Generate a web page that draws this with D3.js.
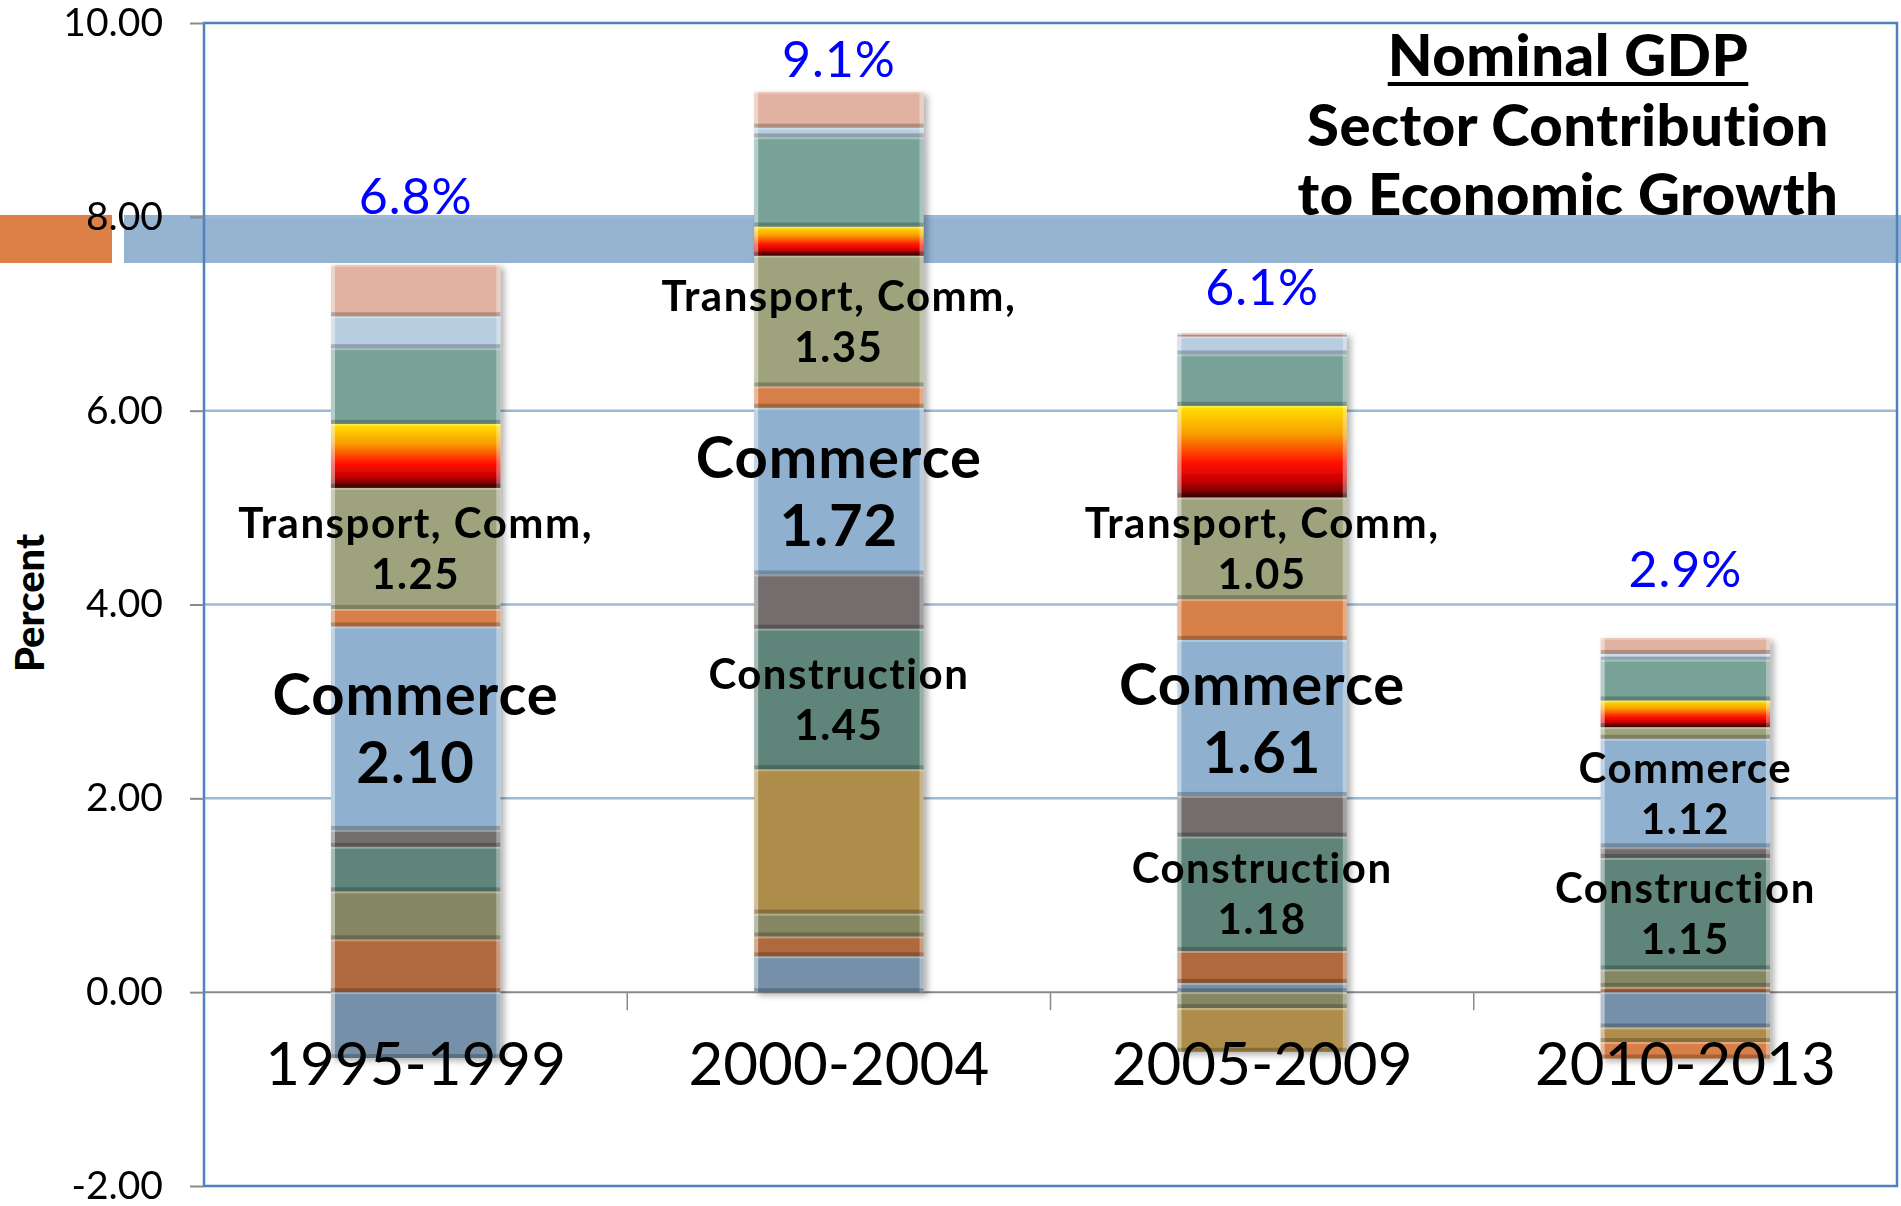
<!DOCTYPE html>
<html>
<head>
<meta charset="utf-8">
<script src="https://cdn.jsdelivr.net/npm/d3@7"></script>
<style>
  body { margin: 0; background: #fff; }
  svg text { font-family: Lato, 'Open Sans', sans-serif; }
</style>
</head>
<body>
<div class="canvas"></div>
<script>
// periods on the x axis
const categories = ['1995-1999', '2000-2004', '2005-2009', '2010-2013'];
// nominal GDP growth written over each bar, and the value it sits at
const growthLabels = ['6.8%', '9.1%', '6.1%', '2.9%'];
const growthLabelAt = [8.03, 9.44, 7.09, 4.18];
const yTicks = [-2, 0, 2, 4, 6, 8, 10];

// sector contributions (percentage points), bottom of the stack first
const sectorA      = [-0.68, 0.37, 0.095, -0.365];
const sectorB      = [0.545, 0.205, 0.33, 0.055];
const sectorC      = [0.495, 0.235, -0.165, 0.18];
const sectorD      = [0.0, 1.49, -0.45, -0.15];
const construction = [0.46, 1.45, 1.18, 1.15];
const sectorF      = [0.174, 0.56, 0.42, 0.11];
const commerce     = [2.10, 1.72, 1.61, 1.12];
const sectorH      = [0.18, 0.22, 0.42, -0.17];
const transport    = [1.25, 1.35, 1.05, 0.12];
const sectorJ      = [0.66, 0.30, 0.945, 0.275];
const sectorK      = [0.78, 0.92, 0.53, 0.42];
const sectorL      = [0.33, 0.10, 0.185, 0.06];
const sectorM      = [0.53, 0.37, 0.035, 0.165];

const keys = ['sectorA', 'sectorB', 'sectorC', 'sectorD', 'construction', 'sectorF',
    'commerce', 'sectorH', 'transport', 'sectorJ', 'sectorK', 'sectorL', 'sectorM'];
const values = [sectorA, sectorB, sectorC, sectorD, construction, sectorF,
    commerce, sectorH, transport, sectorJ, sectorK, sectorL, sectorM];
const colors = ['#7590a8', '#b0683c', '#858763', '#ad8d4a', '#5e8479', '#736d6e',
    '#8fb1cf', '#d77f48', '#9fa37d', 'url(#fire)', '#78a297', '#b8cde0', '#e1b2a2'];

// which segments carry a text label
const labelled = [
    { key: 'transport', text: 'Transport, Comm,', bars: [0, 1, 2] },
    { key: 'commerce', text: 'Commerce', bars: [0, 1, 2, 3] },
    { key: 'construction', text: 'Construction', bars: [1, 2, 3] }
];

const table = categories.map((c, i) => {
    const row = { category: c };
    keys.forEach((k, j) => row[k] = values[j][i]);
    return row;
});

const svg = d3.select('.canvas')
    .append('svg')
    .attr('width', 1901)
    .attr('height', 1206);

const defs = svg.append('defs');
const fire = defs.append('linearGradient').attr('id', 'fire')
    .attr('x1', 0).attr('y1', 0).attr('x2', 0).attr('y2', 1);
[['0%', '#ffe400'], ['30%', '#f8a000'], ['62%', '#ff1200'], ['82%', '#c80000'], ['100%', '#4a0000']]
    .forEach(s => fire.append('stop').attr('offset', s[0]).attr('stop-color', s[1]));

const shadow = defs.append('filter').attr('id', 'shadow')
    .attr('x', '-10%').attr('y', '-5%').attr('width', '130%').attr('height', '115%');
shadow.append('feDropShadow').attr('dx', 4).attr('dy', 3)
    .attr('stdDeviation', 3).attr('flood-opacity', 0.3);

const margin = { top: 23, right: 4, bottom: 20, left: 204 };
const graphWidth = 1901 - margin.left - margin.right;
const graphHeight = 1206 - margin.top - margin.bottom;

// slide decoration band, under the chart
svg.append('rect').attr('x', 0).attr('y', 215).attr('width', 112).attr('height', 48).attr('fill', '#dd8047');
svg.append('rect').attr('x', 124).attr('y', 215).attr('width', 1777).attr('height', 48).attr('fill', '#94b4d2');

const graph = svg.append('g')
    .attr('transform', `translate(${margin.left},${margin.top})`);

// scales
const y = d3.scaleLinear()
    .domain([-2, 10])
    .range([graphHeight, 0]);

const x = d3.scaleBand()
    .domain(categories)
    .range([0, graphWidth])
    .paddingInner(0.6)
    .paddingOuter(0.3);

// gridlines
graph.selectAll('line.grid')
    .data(yTicks.filter(d => d > 0 && d < 10))
    .enter().append('line')
    .attr('class', 'grid')
    .attr('x1', 0).attr('x2', graphWidth)
    .attr('y1', d => y(d)).attr('y2', d => y(d))
    .attr('stroke', '#9bbad8')
    .attr('stroke-width', 2.5);

// zero line with category ticks
graph.append('line')
    .attr('x1', 0).attr('x2', graphWidth)
    .attr('y1', y(0)).attr('y2', y(0))
    .attr('stroke', '#8a8a8a').attr('stroke-width', 2);

graph.selectAll('line.cat')
    .data(categories.slice(1))
    .enter().append('line')
    .attr('class', 'cat')
    .attr('x1', d => x(d) + x.bandwidth() / 2 - x.step() / 2)
    .attr('x2', d => x(d) + x.bandwidth() / 2 - x.step() / 2)
    .attr('y1', y(0)).attr('y2', y(0) + 18)
    .attr('stroke', '#8a8a8a').attr('stroke-width', 1.5);

// stacked bars
const stacked = d3.stack().keys(keys).offset(d3.stackOffsetDiverging)(table);

const bars = graph.append('g').attr('filter', 'url(#shadow)');

stacked.forEach((layer, li) => {
    layer.forEach(d => {
        const top = y(Math.max(d[0], d[1]));
        const h = Math.abs(y(d[0]) - y(d[1]));
        if (h < 0.5) return;
        const x0 = x(d.data.category);
        const w = x.bandwidth();
        const seg = bars.append('g');
        seg.append('rect')
            .attr('x', x0).attr('y', top).attr('width', w).attr('height', h)
            .attr('fill', colors[li]);
        // bevel: light sides and top, dark bottom
        const e = Math.min(4, h / 2);
        seg.append('rect').attr('x', x0).attr('y', top).attr('width', 4).attr('height', h)
            .attr('fill', '#fff').attr('opacity', 0.45);
        seg.append('rect').attr('x', x0 + w - 4).attr('y', top).attr('width', 4).attr('height', h)
            .attr('fill', '#fff').attr('opacity', 0.35);
        seg.append('rect').attr('x', x0).attr('y', top).attr('width', w).attr('height', Math.min(2, e))
            .attr('fill', '#fff').attr('opacity', 0.3);
        seg.append('rect').attr('x', x0).attr('y', top + h - e).attr('width', w).attr('height', e)
            .attr('fill', '#000').attr('opacity', 0.22);
    });
});

// segment labels
labelled.forEach(l => {
    const layer = stacked.find(s => s.key === l.key);
    l.bars.forEach(i => {
        const d = layer[i];
        const cy = y((d[0] + d[1]) / 2);
        const cx = x(d.data.category) + x.bandwidth() / 2;
        const big = l.key === 'commerce' && i < 3;
        const size = big ? 58 : 42;
        const gap = big ? 68 : 51;
        const t = graph.append('text')
            .attr('text-anchor', 'middle')
            .attr('font-weight', 700)
            .attr('font-size', size)
            .attr('letter-spacing', big ? 1 : 1.5)
            .attr('fill', '#000');
        t.append('tspan').attr('x', cx).attr('y', cy - gap / 2 + size * 0.36).text(l.text);
        t.append('tspan').attr('x', cx).attr('y', cy + gap / 2 + size * 0.36).text(d3.format('.2f')(d[1] - d[0]));
    });
});

// growth labels
graph.selectAll('text.growth')
    .data(categories)
    .enter().append('text')
    .attr('class', 'growth')
    .attr('x', d => x(d) + x.bandwidth() / 2)
    .attr('y', (d, i) => y(growthLabelAt[i]))
    .attr('text-anchor', 'middle')
    .attr('font-size', 50)
    .attr('letter-spacing', 1)
    .attr('fill', '#0000ff')
    .text((d, i) => growthLabels[i]);

// category labels
graph.selectAll('text.cat')
    .data(categories)
    .enter().append('text')
    .attr('class', 'cat')
    .attr('x', d => x(d) + x.bandwidth() / 2)
    .attr('y', y(0) + 93)
    .attr('text-anchor', 'middle')
    .attr('font-size', 60)
    .attr('fill', '#000')
    .text(d => d);

// plot area border
graph.append('rect')
    .attr('width', graphWidth)
    .attr('height', graphHeight)
    .attr('fill', 'none')
    .attr('stroke', '#4f81bd')
    .attr('stroke-width', 2.5);

// y axis
const yAxis = d3.axisLeft(y)
    .tickValues(yTicks)
    .tickFormat(d => d.toFixed(2))
    .tickSize(14)
    .tickPadding(27);

const yAxisGroup = graph.append('g').call(yAxis);
yAxisGroup.select('.domain').remove();
yAxisGroup.selectAll('.tick line').attr('stroke', '#8a8a8a').attr('stroke-width', 2);
yAxisGroup.selectAll('.tick text')
    .attr('font-size', 39)
    .attr('font-family', 'Lato, sans-serif')
    .attr('fill', '#000');

svg.append('text')
    .attr('transform', 'translate(44,603) rotate(-90)')
    .attr('text-anchor', 'middle')
    .attr('font-weight', 900)
    .attr('font-size', 40)
    .text('Percent');

// title
const title = ['Nominal GDP', 'Sector Contribution', 'to Economic Growth'];
const titleText = svg.selectAll('text.title')
    .data(title)
    .enter().append('text')
    .attr('class', 'title')
    .attr('x', 1568)
    .attr('y', (d, i) => 76 + i * 69.5)
    .attr('text-anchor', 'middle')
    .attr('font-weight', 900)
    .attr('font-size', 58)
    .attr('letter-spacing', 0.5)
    .text(d => d);

const tw = titleText.node().getComputedTextLength();
svg.append('rect')
    .attr('x', 1568 - tw / 2).attr('y', 82)
    .attr('width', tw).attr('height', 4)
    .attr('fill', '#000');
</script>
</body>
</html>
